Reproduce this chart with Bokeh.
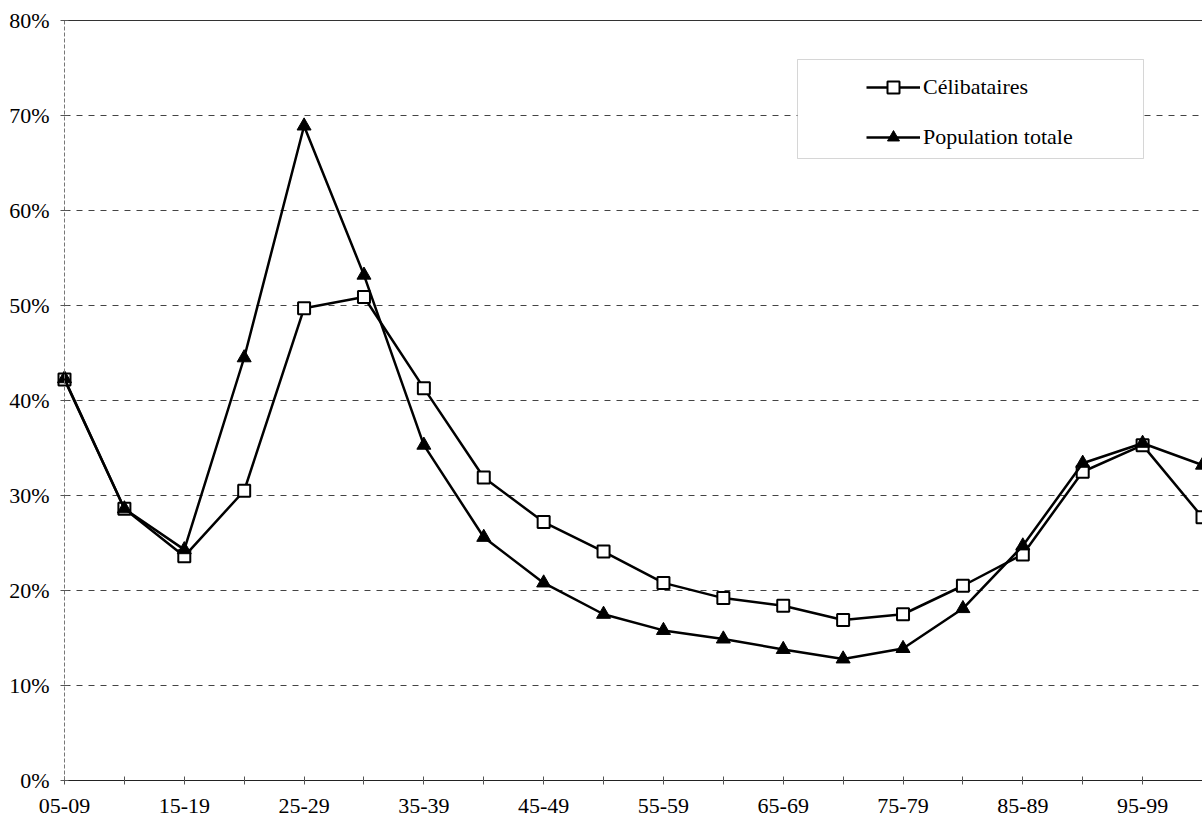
from bokeh.plotting import figure
from bokeh.models import (Range1d, LinearAxis, FixedTicker, Legend, LegendItem,
                          BoxAnnotation, ColumnDataSource, PrintfTickFormatter)
from bokeh.embed import file_html
from bokeh.resources import INLINE

# Age groups (every other one is labelled on the axis)
age_groups = ["05-09", "10-14", "15-19", "20-24", "25-29", "30-34", "35-39",
              "40-44", "45-49", "50-54", "55-59", "60-64", "65-69", "70-74",
              "75-79", "80-84", "85-89", "90-94", "95-99", "100+"]

# Shares in percent
celibataires = [42.2, 28.6, 23.6, 30.5, 49.7, 50.9, 41.3, 31.9, 27.2, 24.1,
                20.8, 19.2, 18.4, 16.9, 17.5, 20.5, 23.8, 32.5, 35.3, 27.7]
population_totale = [42.3, 28.6, 24.3, 44.5, 68.9, 53.2, 35.3, 25.6, 20.8, 17.5,
                     15.8, 14.9, 13.8, 12.8, 13.9, 18.1, 24.7, 33.4, 35.5, 33.2]

y_ticks = [0, 10, 20, 30, 40, 50, 60, 70, 80]
grid_levels = y_ticks[1:-1]

FONT = "Liberation Serif"
FONT_SIZE = "22px"

# Canvas geometry (pixels); the frame fills the whole canvas and the axes
# are pinned at x=0 / y=0 so their labels fall inside it.
W, H = 1202, 824
AXIS_PX = 64                 # x pixel of the value axis
TOP_PX, BOTTOM_PX = 20, 780  # y pixels of the 80% and 0% levels
n = len(age_groups)
x_last = n - 1
px_per_x = (W - AXIS_PX) / x_last
y_max = y_ticks[-1]
px_per_y = (BOTTOM_PX - TOP_PX) / y_max

x_start = -AXIS_PX / px_per_x
y_start = -(H - BOTTOM_PX) / px_per_y
y_end = y_max + TOP_PX / px_per_y


def px_to_x(px):
    return x_start + px / px_per_x


def px_to_y(py):
    return (BOTTOM_PX - py) / px_per_y


x = list(range(n))
src = ColumnDataSource(dict(x=x, cel=celibataires, pop=population_totale))

p = figure(width=W, height=H, output_backend="svg", toolbar_location=None,
           x_range=Range1d(x_start, x_last), y_range=Range1d(y_start, y_end),
           x_axis_location=None, y_axis_location=None,
           min_border=0)
p.outline_line_color = None
p.background_fill_color = "white"
p.border_fill_color = "white"
p.xgrid.visible = False
p.ygrid.visible = False

# Dashed horizontal gridlines and the solid top border of the plot area
p.segment(x0=[0] * len(grid_levels), x1=[x_last] * len(grid_levels),
          y0=grid_levels, y1=grid_levels,
          line_color="#444444", line_width=1, line_dash="6 6")
p.segment(x0=[0], x1=[x_last], y0=[y_max], y1=[y_max],
          line_color="#333333", line_width=1.2)

# Value axis
yaxis = LinearAxis(fixed_location=0, bounds=(0, y_max),
                   ticker=FixedTicker(ticks=y_ticks),
                   formatter=PrintfTickFormatter(format="%d%%"))
yaxis.axis_line_color = "#777777"
yaxis.axis_line_dash = "4 2"
yaxis.axis_line_width = 1
yaxis.major_tick_in = 4
yaxis.major_tick_out = 4
yaxis.major_tick_line_color = "#555555"
yaxis.minor_tick_line_color = None
yaxis.major_label_standoff = 11
yaxis.major_label_text_font = FONT
yaxis.major_label_text_font_size = FONT_SIZE
yaxis.major_label_text_color = "black"
p.add_layout(yaxis, "left")

# Age-group axis
xaxis = LinearAxis(fixed_location=0, bounds=(0, x_last),
                   ticker=FixedTicker(ticks=x))
xaxis.major_label_overrides = {i: (g if i % 2 == 0 else "") for i, g in enumerate(age_groups)}
xaxis.axis_line_color = "#222222"
xaxis.axis_line_width = 1.2
xaxis.major_tick_in = 4
xaxis.major_tick_out = 4
xaxis.major_tick_line_color = "#555555"
xaxis.minor_tick_line_color = None
xaxis.major_label_standoff = 14
xaxis.major_label_text_font = FONT
xaxis.major_label_text_font_size = FONT_SIZE
xaxis.major_label_text_color = "black"
p.add_layout(xaxis, "below")

# Series
l_cel = p.line("x", "cel", source=src, line_color="black", line_width=2.5)
m_cel = p.scatter("x", "cel", source=src, marker="square", size=12,
                  fill_color="white", line_color="black", line_width=2)
l_pop = p.line("x", "pop", source=src, line_color="black", line_width=2.5)
m_pop = p.scatter("x", "pop", source=src, marker="triangle", size=14,
                  fill_color="black", line_color="black", line_width=1)

# Legend frame
box = BoxAnnotation(left=px_to_x(797), right=px_to_x(1143),
                    top=px_to_y(59), bottom=px_to_y(158),
                    fill_color="white", fill_alpha=1.0,
                    line_color="#777777", line_width=1)
p.add_layout(box)

legend = Legend(items=[LegendItem(label="Célibataires", renderers=[l_cel, m_cel]),
                       LegendItem(label="Population totale", renderers=[l_pop, m_pop])],
                location=(866, H - 152),
                glyph_width=54, glyph_height=30, label_height=30,
                spacing=20, label_standoff=3, padding=0, margin=0,
                background_fill_alpha=0, border_line_color=None,
                label_text_font=FONT, label_text_font_size=FONT_SIZE,
                label_text_color="black")
p.add_layout(legend)

open("out.html", "w").write(file_html(p, INLINE))
